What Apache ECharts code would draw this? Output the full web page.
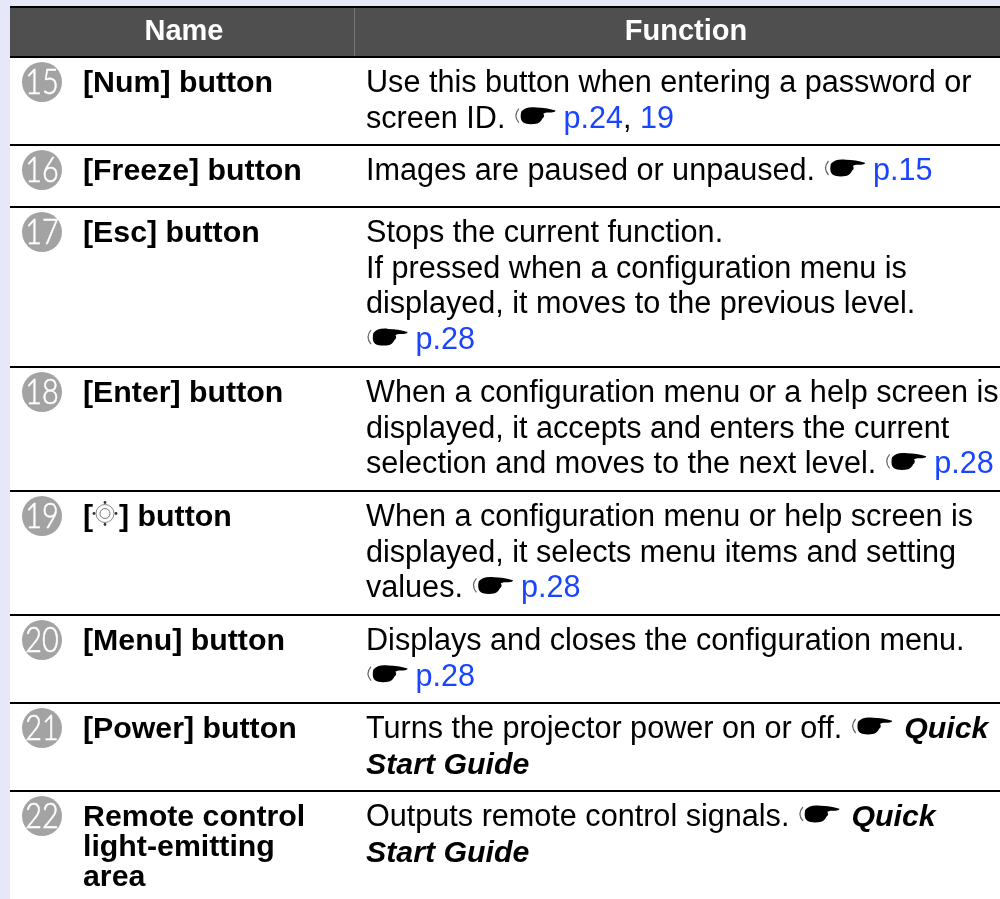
<!DOCTYPE html>
<html><head><meta charset="utf-8">
<style>html,body{margin:0;padding:0;background:#fff}#c{width:1000px;height:899px}</style>
<script src="https://cdn.jsdelivr.net/npm/echarts@6/dist/echarts.min.js"></script>
</head><body><div id="c"></div>
<script>
const headers = ['Name', 'Function'];
const badges = ['15','16','17','18','19','20','21','22'];
const names = [
  ['[Num] button'], ['[Freeze] button'], ['[Esc] button'], ['[Enter] button'],
  ['[{target}] button'], ['[Menu] button'], ['[Power] button'],
  ['Remote control','light-emitting','area']
];
const functions = [
  ['Use this button when entering a password or','screen ID. {hand} {link|p.24}, {link|19}'],
  ['Images are paused or unpaused. {hand} {link|p.15}'],
  ['Stops the current function.','If pressed when a configuration menu is','displayed, it moves to the previous level.','{hand} {link|p.28}'],
  ['When a configuration menu or a help screen is','displayed, it accepts and enters the current','selection and moves to the next level. {hand} {link|p.28}'],
  ['When a configuration menu or help screen is','displayed, it selects menu items and setting','values. {hand} {link|p.28}'],
  ['Displays and closes the configuration menu.','{hand} {link|p.28}'],
  ['Turns the projector power on or off. {hand} {em|Quick}','{em|Start Guide}'],
  ['Outputs remote control signals. {hand} {em|Quick}','{em|Start Guide}']
];
const rowLines = [57,145,207,367,491,615,703,791];

const FF = '"Liberation Sans", Arial, sans-serif';
const SZ = 30.6, NZ = 30.3, HZ = 29;
const ctx = document.createElement('canvas').getContext('2d');
function tw(t, font){ ctx.font = font; return ctx.measureText(t).width; }
const g = [];
function text(x, y, t, o){
  g.push({type:'text', x, y, silent:true, style:Object.assign({text:t, fontFamily:FF, fontSize:SZ, fill:'#000', verticalAlign:'middle', align:'left'}, o||{})});
}
function rect(x,y,w,h,c){ g.push({type:'rect', silent:true, shape:{x,y,width:w,height:h}, style:{fill:c}}); }

function hand(x, y){
  g.push({type:'group', x, y, silent:true, children:[
    {type:'path', shape:{pathData:'M3.5 2 Q0 9 3.5 16', layout:'cover', x:0.5,y:2,width:3,height:14}, style:{fill:null, stroke:'#666', lineWidth:1.2}},
    {type:'path', shape:{pathData:'M6 5 C9 1 15 0 21 1 C27 1 34 2 40 4 C40 6 36 6 31 6 L28 7 C29 9 29 11 27 12 C26 14 25 16 22 17 C17 18 11 18 8 16 C5 14 5 9 6 5 Z', layout:'cover', x:5.3,y:0.5,width:34.7,height:17}, style:{fill:'#000'}}
  ]});
}
function target(cx, cy){
  g.push({type:'circle', silent:true, shape:{cx,cy,r:9}, style:{fill:null, stroke:'#555', lineWidth:0.7}});
  g.push({type:'circle', silent:true, shape:{cx,cy,r:5}, style:{fill:null, stroke:'#777', lineWidth:1}});
  [[0,-11],[0,11],[-11,0],[11,0]].forEach(d=>g.push({type:'circle', silent:true, shape:{cx:cx+d[0],cy:cy+d[1],r:1.4}, style:{fill:'#333'}}));
}
function line(x, y, src){
  const re = /\{hand\}|\{link\|([^}]*)\}|\{em\|([^}]*)\}/g;
  let last = 0, m, afterHand = false;
  const plain = t => { if(!t) return; text(x,y,t); x += tw(t, SZ+'px '+FF); };
  while((m = re.exec(src))){
    plain(src.slice(last, m.index));
    last = re.lastIndex;
    if(m[0]==='{hand}'){ hand(x+1.5, y-12.5); x += 41; afterHand = true; }
    else if(m[1]!==undefined){ text(x,y,m[1],{fill:'#1a45ff'}); x += tw(m[1], SZ+'px '+FF); }
    else { text(x+(afterHand?4:0),y,m[2],{fontWeight:'bold',fontStyle:'italic',fontSize:NZ}); x += tw(m[2], 'italic bold '+NZ+'px '+FF); }
  }
  plain(src.slice(last));
}

// page
rect(0,0,1000,899,'#fff');
rect(0,0,10,899,'#e6e8fa');
rect(0,0,1000,6,'#e6e8fa');
rect(10,6,990,2,'#000');
rect(10,8,990,48,'#4f4f4f');
rect(354,8,1,48,'#777');
text(184,32,headers[0],{align:'center',fill:'#fff',fontWeight:'bold',fontSize:HZ});
text(686,32,headers[1],{align:'center',fill:'#fff',fontWeight:'bold',fontSize:HZ});
rowLines.forEach(y=>rect(10,y-1,990,2,'#000'));

badges.forEach((b,i)=>{
  const top = rowLines[i];
  g.push({type:'circle', silent:true, shape:{cx:42,cy:top+25,r:20}, style:{fill:'#a3a3a3'}});
  g.push({type:'text', x:42, y:top+25, scaleX:0.8, silent:true, style:{text:b, align:'center', verticalAlign:'middle', fontFamily:'Lato, "Open Sans", sans-serif', fontWeight:300, fontSize:36, fill:'#fff', stroke:'#fff', lineWidth:0.6}});
  names[i].forEach((n,j)=>{
    const y = top + 26.5 + j*30;
    if(n.includes('{target}')){
      const f='bold '+NZ+'px '+FF;
      text(83,y,'[',{fontWeight:'bold',fontSize:NZ});
      target(105,y-4);
      text(83+tw('[',f)+26,y,'] button',{fontWeight:'bold',fontSize:NZ});
    } else text(83,y,n,{fontWeight:'bold',fontSize:NZ});
  });
  functions[i].forEach((l,j)=> line(366, top + 26.5 + j*35.7, l));
});

const chart = echarts.init(document.getElementById('c'), null, {renderer:'canvas', width:1000, height:899});
chart.setOption({
  animation:false,
  series:[{type:'custom', coordinateSystem:'none', silent:true, data:[[0]], clip:false,
    renderItem:()=>({type:'group', children:g})}]
});
</script></body></html>
